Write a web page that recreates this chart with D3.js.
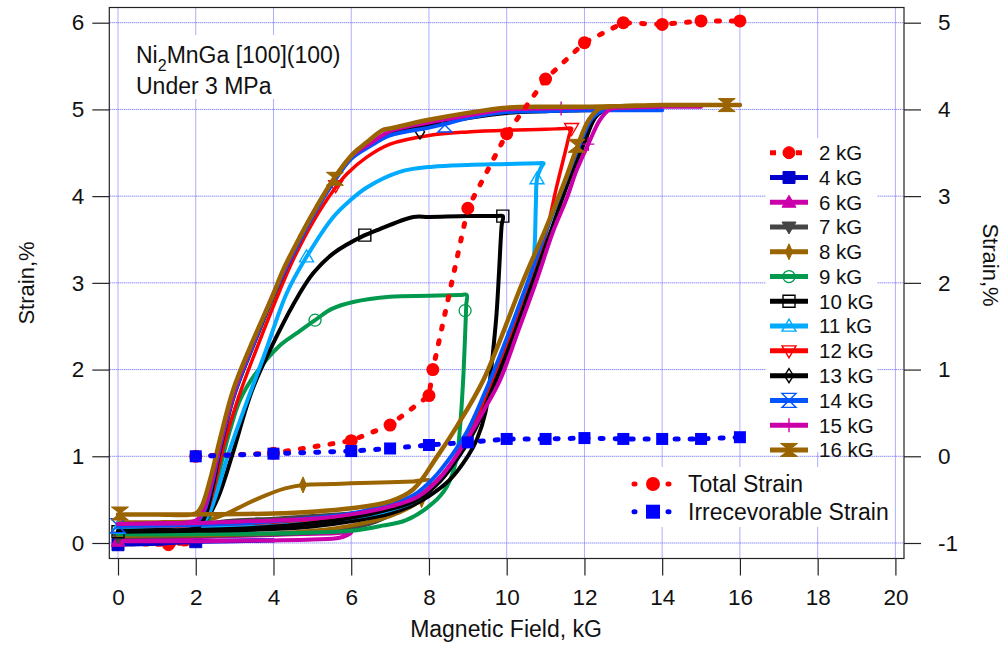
<!DOCTYPE html>
<html><head><meta charset="utf-8">
<script src="https://cdn.jsdelivr.net/npm/d3@7"></script>
<style>
body{margin:0;background:#fff}
svg{font-family:"Liberation Sans",Arial,Helvetica,sans-serif}
</style>
</head><body>
<svg id="chart" width="1007" height="646"></svg>
<script>
// ---------------- DATA ----------------
const xTicks = [0,2,4,6,8,10,12,14,16,18,20];
const yLeftTicks = [0,1,2,3,4,5,6];
const yRightTicks = [-1,0,1,2,3,4,5];
const legendLabels = ["2 kG","4 kG","6 kG","7 kG","8 kG","9 kG","10 kG","11 kG","12 kG","13 kG","14 kG","15 kG","16 kG"];
const summaryLabels = ["Total Strain","Irrecevorable Strain"];

// summary series (right axis, %)
const sumField = [2,4,6,7,8,8.1,9,10,11,12,13,14,15,16];
const totalStrain = [0,0.035,0.18,0.36,0.70,1.0,2.86,3.72,4.35,4.77,5.0,4.98,5.02,5.02];
const irrField = [2,4,6,7,8,9,10,11,12,13,14,15,16];
const irrStrain = [0,0.03,0.06,0.09,0.13,0.16,0.2,0.2,0.21,0.2,0.2,0.2,0.22];

// hysteresis loops (left axis): [field kG, strain %] in measured order
const h2 = [[0,-0.01],[1.3,-0.02],[2,-0.01],[1,-0.01],[0,-0.005]];
const h4 = [[0,-0.02],[1,-0.01],[2,0.015],[3,0.02],[4,0.03],[3,0.03],[2,0.025],[1,0.01],[0,0.0]];
const h6 = [[0,0.02],[1,0.02],[2,0.02],[3,0.025],[4,0.03],[5,0.04],[5.7,0.06],[6,0.12],[5.5,0.11],[4.5,0.1],[3,0.08],[2,0.07],[1,0.05],[0,0.04]];
const h7 = [[0,0.07],[2,0.08],[4,0.1],[5,0.12],[6,0.17],[6.6,0.24],[7,0.33],[7.02,0.38],[6.5,0.36],[6,0.34],[5,0.31],[4,0.28],[3,0.26],[2.3,0.22],[2,0.17],[1,0.12],[0,0.1]];
const h8 = [[0,0.08],[2,0.09],[4,0.11],[5,0.14],[6,0.2],[7,0.31],[7.5,0.41],[7.81,0.5],[8,0.62],[8.02,0.72],[7.6,0.71],[7,0.7],[6,0.69],[5.5,0.68],[4.76,0.67],[4.3,0.63],[3.8,0.55],[3.3,0.45],[2.8,0.34],[2.37,0.27],[2,0.25],[1,0.24],[0,0.24]];
const h9 = [[0,0.1],[2,0.1],[4,0.11],[5,0.12],[6,0.14],[6.8,0.2],[7.4,0.26],[8.1,0.46],[8.46,0.65],[8.7,0.95],[8.8,1.34],[8.88,1.88],[8.93,2.4],[8.96,2.75],[8.97,2.86],
            [8.8,2.86],[8,2.85],[7,2.84],[6.05,2.78],[5.5,2.7],[5.07,2.57],[4.6,2.42],[4.17,2.28],[3.52,1.94],[3.14,1.65],[2.88,1.3],[2.68,0.96],[2.5,0.61],[2.37,0.32],[2.2,0.19],[2,0.15],[1,0.11],[0,0.1]];
const h10 = [[0,0.13],[2,0.14],[4,0.16],[5,0.19],[6,0.25],[7,0.34],[7.6,0.44],[8,0.54],[8.54,0.73],[9,1.0],[9.23,1.19],[9.45,1.5],[9.57,1.88],[9.67,2.3],[9.74,2.65],[9.8,3.1],[9.87,3.66],[9.9,3.77],
             [9.75,3.77],[9,3.77],[8,3.76],[7.6,3.76],[6.57,3.59],[6.35,3.55],[5.54,3.34],[5.02,3.11],[4.65,2.86],[4.1,2.4],[3.45,1.76],[2.95,1.03],[2.58,0.53],[2.3,0.29],[2.05,0.17],[1,0.14],[0,0.13]];
const h11 = [[0,0.17],[2,0.18],[4,0.21],[6,0.29],[7,0.38],[7.7,0.5],[8.2,0.68],[8.7,0.95],[9.1,1.3],[9.5,1.72],[9.9,2.15],[10.3,2.55],[10.55,2.9],[10.7,3.3],[10.75,3.9],[10.78,4.2],[10.88,4.33],[10.95,4.38],
             [10.8,4.38],[10,4.37],[9,4.36],[8.1,4.34],[7.25,4.28],[6.4,4.1],[5.97,3.95],[5.54,3.76],[4.85,3.3],[4.34,2.88],[3.75,2.15],[3.25,1.55],[2.82,1.0],[2.52,0.55],[2.3,0.3],[2.1,0.2],[1,0.18],[0,0.17]];
const h12 = [[0,0.2],[2,0.21],[4,0.24],[6,0.32],[7,0.42],[7.7,0.53],[8.2,0.72],[8.7,1.0],[9.1,1.32],[9.5,1.72],[10,2.28],[10.5,2.88],[11,3.55],[11.28,4.1],[11.5,4.5],[11.62,4.72],[11.67,4.78],
             [11.5,4.78],[11,4.77],[10,4.76],[9,4.74],[8,4.7],[7,4.6],[6.4,4.45],[5.9,4.26],[5.55,4.07],[5.0,3.69],[4.5,3.26],[4.17,2.92],[3.6,2.28],[3.1,1.68],[2.72,1.12],[2.45,0.6],[2.25,0.32],[2.05,0.22],[1,0.2],[0,0.2]];
const h13 = [[0,0.14],[2,0.15],[4,0.19],[6,0.29],[7,0.39],[7.7,0.5],[8.3,0.72],[8.8,1.02],[9.2,1.32],[9.6,1.74],[10.1,2.3],[10.6,2.92],[11.1,3.55],[11.6,4.18],[12,4.62],[12.3,4.92],[12.6,5.0],[13,5.0],
             [12,4.99],[11,4.98],[10,4.96],[9,4.9],[8,4.82],[7,4.72],[6.5,4.6],[6,4.44],[5.5,4.14],[5,3.77],[4.5,3.33],[4,2.85],[3.5,2.3],[3,1.72],[2.65,1.12],[2.42,0.62],[2.25,0.32],[2.05,0.18],[1,0.15],[0,0.14]];
const h14 = [[0,0.2],[2,0.21],[4,0.25],[6,0.34],[7,0.45],[7.6,0.55],[8.1,0.74],[8.6,1.02],[9,1.3],[9.5,1.8],[10,2.36],[10.5,2.96],[11,3.58],[11.5,4.16],[11.9,4.62],[12.2,4.9],[12.5,4.99],[13,4.99],[14,4.99],
             [13,4.99],[12,4.99],[11,4.98],[10,4.97],[9,4.9],[8.4,4.83],[8,4.79],[7,4.7],[6.5,4.58],[6,4.43],[5.5,4.13],[5,3.76],[4.5,3.33],[4,2.86],[3.5,2.31],[3,1.73],[2.65,1.15],[2.4,0.65],[2.2,0.35],[2,0.24],[1,0.21],[0,0.2]];
const h15 = [[0,0.22],[2,0.23],[4,0.26],[5,0.28],[6,0.33],[7,0.42],[7.7,0.53],[8.3,0.76],[8.97,1.19],[9.4,1.52],[9.83,1.88],[10.3,2.45],[10.77,3.03],[11.2,3.6],[11.55,3.98],[11.8,4.3],[12.1,4.6],[12.4,4.88],[12.65,5.0],[13,5.02],[14,5.03],[15,5.03],
             [14,5.03],[13,5.03],[12,5.02],[11,5.01],[10,5.0],[9,4.93],[8,4.85],[7,4.75],[6.5,4.61],[6,4.46],[5.5,4.16],[5,3.79],[4.5,3.36],[4,2.88],[3.5,2.34],[3,1.76],[2.65,1.18],[2.4,0.68],[2.2,0.38],[2,0.26],[1,0.23],[0,0.22]];
const h16 = [[0,0.33],[2,0.33],[4,0.34],[5,0.36],[6,0.4],[7,0.48],[7.6,0.62],[8.2,0.99],[8.71,1.34],[9.4,1.88],[10.43,3.03],[11,3.62],[11.5,4.18],[11.8,4.55],[12.1,4.87],[12.4,5.01],[13,5.04],[14,5.05],[15,5.05],[16,5.05],
             [15,5.05],[14,5.05],[13,5.04],[12,5.03],[11,5.03],[10,5.02],[9,4.96],[8,4.88],[7,4.78],[6.8,4.76],[6.4,4.62],[6.05,4.49],[5.55,4.2],[5.1,3.87],[4.68,3.53],[4.25,3.15],[3.95,2.82],[3.4,2.26],[2.96,1.76],[2.62,1.19],[2.37,0.73],[2.15,0.42],[2,0.34],[1,0.33],[0,0.33]];

// marker points for each loop
const m2 = [[1.3,-0.02]];
const m4 = [[0,-0.02],[2,0.015]];
const m6 = [[0,0.02]];
const m7 = [[0,0.07],[7.02,0.38]];
const m8 = [[4.76,0.67],[7.81,0.5]];
const m9 = [[5.07,2.57],[8.93,2.68]];
const m10 = [[0,0.13],[6.35,3.55],[9.9,3.77]];
const m11 = [[0,0.17],[4.85,3.3],[10.78,4.2]];
const m12 = [[5.6,4.12],[11.67,4.78]];
const m13 = [[7.77,4.74],[12.0,4.6]];
const m14 = [[0,0.2],[8.41,4.82]];
const m15 = [[11.4,5.01],[12.1,4.6]];
const m16 = [[0.05,0.34],[5.58,4.2],[11.8,4.58],[15.66,5.05]];

// ---------------- STYLE / LAYOUT ----------------
const loops = [
  {d:h2, m:m2, color:"#ff0000", mk:"circle",  dash:"4,9", w:4},
  {d:h4, m:m4, color:"#0000cc", mk:"square",  w:4},
  {d:h6, m:m6, color:"#cc00aa", mk:"triUp",   w:4},
  {d:h7, m:m7, color:"#454545", mk:"triDown", w:4},
  {d:h8, m:m8, color:"#9a6400", mk:"thinDiamond", w:4},
  {d:h9, m:m9, color:"#00994d", mk:"circleOpen", w:4},
  {d:h10,m:m10,color:"#000000", mk:"squareOpen", w:4},
  {d:h11,m:m11,color:"#00aaff", mk:"triUpOpen", w:4},
  {d:h12,m:m12,color:"#ff0000", mk:"triDownOpen", w:3.5},
  {d:h13,m:m13,color:"#000000", mk:"diamondOpen", w:4},
  {d:h14,m:m14,color:"#0055ff", mk:"hourglassOpen", w:4},
  {d:h15,m:m15,color:"#cc00aa", mk:"plus", w:4},
  {d:h16,m:m16,color:"#9a6400", mk:"hourglass", w:4.5}
];

const FONT = '"Liberation Sans",Arial,sans-serif';
const svg = d3.select("#chart");
const frame = {l:109.3, r:904, t:7.5, b:558.5};
const x = d3.scaleLinear().domain([0,20]).range([118,895.4]);
const yL = d3.scaleLinear().domain([0,6]).range([543,22.7]);
const yR = d3.scaleLinear().domain([-1,5]).range([543,22.7]);
const textColor = "#111";
const gridColor = "#5c5cff";

// grid
const grid = svg.append("g");
xTicks.forEach(v=>grid.append("line").attr("x1",x(v)).attr("x2",x(v)).attr("y1",frame.t+1).attr("y2",frame.b-1)
  .attr("stroke",gridColor).attr("stroke-width",1).attr("stroke-dasharray","1,1"));
yLeftTicks.forEach(v=>grid.append("line").attr("y1",yL(v)).attr("y2",yL(v)).attr("x1",frame.l+1).attr("x2",frame.r-1)
  .attr("stroke",gridColor).attr("stroke-width",1).attr("stroke-dasharray","1,1"));

// white boxes behind annotation and legends
svg.append("rect").attr("x",125).attr("y",35).attr("width",221).attr("height",64).attr("fill","#fff");
svg.append("rect").attr("x",766).attr("y",138).attr("width",111).attr("height",314).attr("fill","#fff");
svg.append("rect").attr("x",624).attr("y",467).attr("width",269).attr("height",60).attr("fill","#fff");

// marker drawing
function markerPath(type){
  switch(type){
    case "triUp": case "triUpOpen": return "M0,-7L7,5L-7,5Z";
    case "triDown": case "triDownOpen": return "M0,7L7,-5L-7,-5Z";
    case "square": return "M-6,-6H6V6H-6Z";
    case "squareOpen": return "M-6,-6H6V6H-6Z";
    case "thinDiamond": return "M0,-8L3.5,0L0,8L-3.5,0Z";
    case "diamondOpen": return "M0,-7L4.5,0L0,7L-4.5,0Z";
    case "hourglass": return "M-8.5,-6.5H8.5L0,0L8.5,6.5H-8.5L0,0Z";
    case "hourglassOpen": return "M-7,-7H7L-7,7H7Z";
    case "plus": return "M0,-7V7M-6,0H6";
  }
  return null;
}
function drawMarker(g, type, cx, cy, color){
  const open = /Open|plus/.test(type);
  if(type==="circle"||type==="circleOpen"){
    g.append("circle").attr("cx",cx).attr("cy",cy).attr("r",6)
      .attr("fill",open?"none":color).attr("stroke",color).attr("stroke-width",open?1.3:1);
    return;
  }
  g.append("path").attr("d",markerPath(type))
    .attr("transform",`translate(${cx},${cy})`)
    .attr("fill",open?"none":color).attr("stroke",color)
    .attr("stroke-width",open?1.4:1);
}

const lineL = d3.line().x(d=>x(d[0])).y(d=>yL(d[1])).curve(d3.curveCatmullRom.alpha(0.5));
const plot = svg.append("g");

loops.forEach(s=>{
  const p = plot.append("path").datum(s.d).attr("d",lineL).attr("fill","none")
    .attr("stroke",s.color).attr("stroke-width",s.w)
    .attr("stroke-linejoin","round").attr("stroke-linecap","round");
  if(s.dash) p.attr("stroke-dasharray",s.dash);
  s.m.forEach(pt=>drawMarker(plot, s.mk, x(pt[0]), yL(pt[1]), s.color));
});

// summary series on right axis
const totalPts = sumField.map((f,i)=>[f,totalStrain[i]]);
const irrPts = irrField.map((f,i)=>[f,irrStrain[i]]);
const lineR = d3.line().x(d=>x(d[0])).y(d=>yR(d[1]));
plot.append("path").datum(totalPts).attr("d",lineR).attr("fill","none")
  .attr("stroke","#ff0000").attr("stroke-width",5).attr("stroke-linecap","round").attr("stroke-dasharray","3,12");
totalPts.forEach(p=>plot.append("circle").attr("cx",x(p[0])).attr("cy",yR(p[1])).attr("r",6.5).attr("fill","#ff0000"));
plot.append("path").datum(irrPts).attr("d",lineR).attr("fill","none")
  .attr("stroke","#0000ff").attr("stroke-width",5).attr("stroke-linecap","round").attr("stroke-dasharray","3,12");
irrPts.forEach(p=>plot.append("rect").attr("x",x(p[0])-6).attr("y",yR(p[1])-6).attr("width",12).attr("height",12).attr("fill","#0000ff"));

// frame
svg.append("rect").attr("x",frame.l).attr("y",frame.t).attr("width",frame.r-frame.l).attr("height",frame.b-frame.t)
  .attr("fill","none").attr("stroke","#222").attr("stroke-width",1.2);

// axes
function styleAxis(g){
  g.select(".domain").remove();
  g.selectAll(".tick line").attr("stroke","#222").attr("stroke-width",1.2);
  g.selectAll(".tick text").attr("fill",textColor).style("font-size","22.5px").style("font-family",FONT);
}
svg.append("g").attr("transform",`translate(${frame.l},0)`)
  .call(d3.axisLeft(yL).tickValues(yLeftTicks).tickSize(17).tickPadding(8).tickFormat(d=>String(d))).call(styleAxis);
svg.append("g").attr("transform",`translate(${frame.r},0)`)
  .call(d3.axisRight(yR).tickValues(yRightTicks).tickSize(17).tickPadding(17).tickFormat(d=>String(d))).call(styleAxis);
svg.append("g").attr("transform",`translate(0,${frame.b})`)
  .call(d3.axisBottom(x).tickValues(xTicks).tickSize(17).tickPadding(14).tickFormat(d=>String(d))).call(styleAxis);

// axis titles
svg.append("text").attr("x",506).attr("y",637).attr("text-anchor","middle").attr("fill",textColor)
  .style("font-size","23px").text("Magnetic Field, kG");
svg.append("text").attr("transform","translate(34,283) rotate(-90)").attr("text-anchor","middle").attr("fill",textColor)
  .style("font-size","22px").text("Strain,%");
svg.append("text").attr("transform","translate(983,265) rotate(90)").attr("text-anchor","middle").attr("fill",textColor)
  .style("font-size","22px").text("Strain,%");

// annotation
const ann = svg.append("text").attr("x",136).attr("y",63).attr("fill",textColor).style("font-size","23px");
ann.append("tspan").text("Ni");
ann.append("tspan").attr("dy",8).style("font-size","16px").text("2");
ann.append("tspan").attr("dy",-8).text("MnGa [100](100)");
svg.append("text").attr("x",136).attr("y",94).attr("fill",textColor).style("font-size","23px").text("Under 3 MPa");

// legend (loops)
const leg = svg.append("g");
loops.forEach((s,i)=>{
  const cy = 152.7 + i*24.77;
  const ln = leg.append("line").attr("x1",770).attr("x2",808).attr("y1",cy).attr("y2",cy)
    .attr("stroke",s.color).attr("stroke-width",5);
  if(s.dash) ln.attr("stroke-dasharray","6,7");
  drawMarker(leg, s.mk, 789, cy, s.color);
  leg.append("text").attr("x",819).attr("y",cy).attr("dy","0.36em").attr("fill",textColor)
    .style("font-size","20.5px").text(legendLabels[i]);
});
// legend (summary)
const sumStyles = [{color:"#ff0000",type:"circle"},{color:"#0000ff",type:"square"}];
summaryLabels.forEach((lab,i)=>{
  const cy = i===0?484:511.7;
  const st = sumStyles[i];
  leg.append("line").attr("x1",634).attr("x2",670).attr("y1",cy).attr("y2",cy)
    .attr("stroke",st.color).attr("stroke-width",5).attr("stroke-linecap","round").attr("stroke-dasharray","1,16");
  if(st.type==="circle") leg.append("circle").attr("cx",653).attr("cy",cy).attr("r",7).attr("fill",st.color);
  else leg.append("rect").attr("x",646).attr("y",cy-7).attr("width",14).attr("height",14).attr("fill",st.color);
  leg.append("text").attr("x",688).attr("y",cy).attr("dy","0.36em").attr("fill",textColor)
    .style("font-size","23px").text(lab);
});
</script>
</body></html>
